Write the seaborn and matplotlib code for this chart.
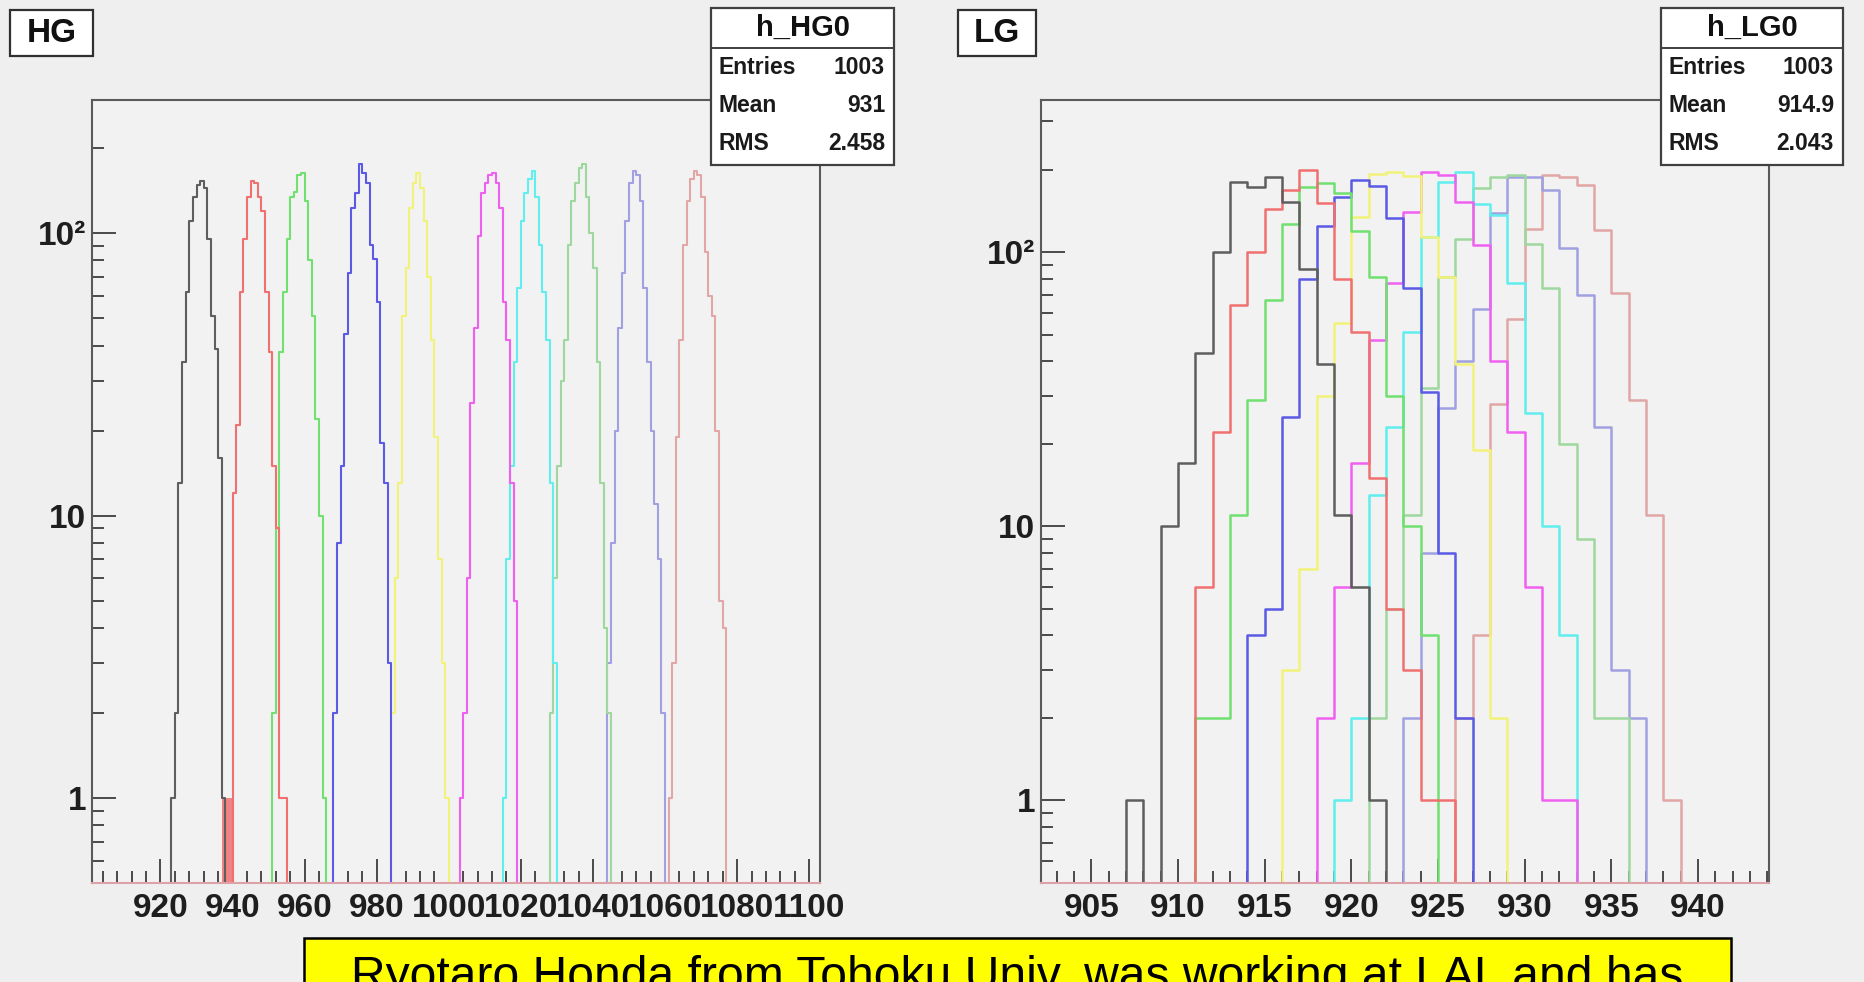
import numpy as np
import pandas as pd
import matplotlib
matplotlib.use("Agg")
import matplotlib.pyplot as plt
import seaborn as sns
from matplotlib.patches import Rectangle
from matplotlib.ticker import MultipleLocator, LogLocator, NullFormatter

# ---------------- data (bin counts, 1 ADC bins) ----------------
HG_START = [923, 940, 951, 968, 984, 1003, 1015, 1028, 1044, 1061]
HG_CH0 = [1, 2, 13, 35, 62, 110, 134, 148, 153, 145, 95, 51, 39, 16, 1]
HG_CH1 = [12, 21, 62, 95, 134, 153, 150, 134, 120, 62, 38, 15, 9, 1, 1]
HG_CH2 = [2, 9, 38, 62, 95, 134, 140, 160, 163, 130, 80, 51, 22, 10, 1]
HG_CH3 = [2, 8, 15, 44, 72, 123, 139, 176, 163, 150, 91, 81, 57, 18, 13, 3]
HG_CH4 = [2, 6, 13, 51, 75, 123, 150, 163, 145, 110, 70, 42, 19, 7, 3, 1]
HG_CH5 = [1, 2, 6, 25, 46, 98, 139, 150, 160, 163, 150, 123, 57, 42, 13, 5]
HG_CH6 = [1, 7, 15, 35, 64, 110, 139, 155, 166, 134, 91, 62, 42, 13, 3]
HG_CH7 = [2, 6, 15, 30, 42, 91, 130, 150, 170, 175, 134, 100, 75, 35, 13, 4, 2]
HG_CH8 = [3, 8, 20, 46, 72, 110, 150, 166, 160, 130, 64, 35, 20, 11, 7, 2]
HG_CH9 = [1, 3, 19, 42, 91, 130, 155, 166, 160, 134, 86, 60, 51, 20, 5, 4]
HG_RED_FILL_EDGES = [937, 940]
HG_RED_FILL_COUNT = 1

LG_START = [907, 911, 911, 914, 916, 918, 919, 921, 923, 926]
LG_CH0 = [1, 0, 10, 17, 43, 100, 181, 173, 188, 152, 87, 39, 11, 6, 1]
LG_CH1 = [6, 22, 64, 100, 144, 169, 199, 151, 80, 51, 15, 5, 3, 1, 1]
LG_CH2 = [2, 2, 11, 29, 67, 127, 173, 179, 164, 119, 81, 30, 10, 4]
LG_CH3 = [4, 5, 25, 80, 125, 159, 183, 175, 133, 74, 31, 8, 2]
LG_CH4 = [3, 7, 30, 55, 134, 193, 196, 190, 114, 81, 39, 19, 2]
LG_CH5 = [2, 6, 17, 48, 77, 140, 196, 191, 153, 106, 40, 22, 6, 1, 1]
LG_CH6 = [1, 2, 13, 23, 51, 114, 181, 196, 150, 137, 77, 26, 10, 4]
LG_CH7 = [2, 5, 11, 32, 81, 112, 171, 188, 191, 107, 74, 20, 9, 2, 2]
LG_CH8 = [2, 8, 27, 40, 62, 139, 188, 188, 169, 104, 70, 23, 3, 2]
LG_CH9 = [2, 4, 28, 57, 122, 191, 188, 176, 120, 71, 29, 11, 1]

Y_TICKS = [1, 10, 100]
Y_TICK_LABELS = ["1", "10", "10\u00b2"]

HG_STATS = [("Entries", "1003"), ("Mean", "931"), ("RMS", "2.458")]
LG_STATS = [("Entries", "1003"), ("Mean", "914.9"), ("RMS", "2.043")]
NOTE = "Ryotaro Honda from Tohoku Univ. was working at LAL and has"

COLORS = ["#5e5e5e", "#f07070", "#70e070", "#5a5ae6", "#f2f27a",
          "#f060f0", "#60eeee", "#9ed89e", "#a0a0e2", "#e2a6a6"]

# ---------------- style ----------------
sns.set_style("white")
plt.rcParams["font.family"] = ["Liberation Sans", "DejaVu Sans"]
plt.rcParams["font.weight"] = "bold"

W, H = 1864, 982
BG = "#efefef"
fig = plt.figure(figsize=(W / 100, H / 100), dpi=100, facecolor=BG)


def px_axes(x0, y0, x1, y1):
    return fig.add_axes([x0 / W, 1 - y1 / H, (x1 - x0) / W, (y1 - y0) / H])


def long_frame(starts, channels):
    rows = []
    for ch, (s, counts) in enumerate(zip(starts, channels)):
        for i, c in enumerate(counts):
            rows.append((ch, s + i + 0.5, c))
    return pd.DataFrame(rows, columns=["ch", "adc", "count"])


def draw_panel(ax, df, edges, xlim, ylim, major, minor, lw):
    ax.set_facecolor("#f2f2f2")
    sns.histplot(data=df, x="adc", weights="count", hue="ch",
                 hue_order=list(range(10)),
                 palette={i: c for i, c in enumerate(COLORS)},
                 bins=list(edges), element="step", fill=False, legend=False,
                 linewidth=lw, ax=ax)
    ax.set_yscale("log", nonpositive="clip")
    ax.set_xlim(*xlim)
    ax.set_ylim(*ylim)
    ax.set_xlabel("")
    ax.set_ylabel("")
    ax.xaxis.set_major_locator(MultipleLocator(major))
    ax.xaxis.set_minor_locator(MultipleLocator(minor))
    ax.set_yticks(Y_TICKS)
    ax.set_yticklabels(Y_TICK_LABELS)
    ax.yaxis.set_minor_locator(LogLocator(base=10, subs=np.arange(2, 10)))
    ax.yaxis.set_minor_formatter(NullFormatter())
    ax.tick_params(which="both", direction="in", top=False, right=False,
                   bottom=True, left=True, color="#4a4a4a", width=1.4,
                   labelsize=24, labelcolor="#1e1e1e")
    ax.tick_params(which="major", length=17)
    ax.tick_params(which="minor", length=8.5)
    ax.tick_params(axis="x", which="major", pad=7)
    ax.tick_params(axis="y", which="major", pad=4)
    for side, sp in ax.spines.items():
        sp.set_visible(True)
        sp.set_color("#5a5a5a")
        sp.set_linewidth(1.5)
    ax.spines["bottom"].set_color("#dca2a8")


# ---------------- HG panel ----------------
ax1 = px_axes(92, 100, 820, 883)
hg_df = long_frame(HG_START, [HG_CH0, HG_CH1, HG_CH2, HG_CH3, HG_CH4,
                              HG_CH5, HG_CH6, HG_CH7, HG_CH8, HG_CH9])
draw_panel(ax1, hg_df, range(901, 1104), (901, 1103), (0.5, 296), 20, 4, 1.5)
ax1.fill_between(HG_RED_FILL_EDGES, HG_RED_FILL_COUNT, 1e-3,
                 color=COLORS[1], alpha=0.85, linewidth=0)

# ---------------- LG panel ----------------
ax2 = px_axes(1041, 100, 1769, 883)
lg_df = long_frame(LG_START, [LG_CH0, LG_CH1, LG_CH2, LG_CH3, LG_CH4,
                              LG_CH5, LG_CH6, LG_CH7, LG_CH8, LG_CH9])
draw_panel(ax2, lg_df, range(902, 945), (902.1, 944.1), (0.5, 359), 5, 1, 1.8)


# ---------------- boxes ----------------
def rect(x0, y0, x1, y1, fc, ec, lw):
    fig.add_artist(Rectangle((x0 / W, 1 - y1 / H), (x1 - x0) / W, (y1 - y0) / H,
                             transform=fig.transFigure, facecolor=fc,
                             edgecolor=ec, linewidth=lw, zorder=5))


def ftext(x, y, s, **kw):
    return fig.text(x / W, 1 - y / H, s, zorder=6, **kw)


def label_box(x0, x1, s):
    rect(x0, 10, x1, 56, "white", "#303030", 1.6)
    ftext((x0 + x1) / 2, 34, s, ha="center", va="center", fontsize=24,
          fontweight="bold", color="#111111")


def stats_box(x0, x1, title, rows):
    rect(x0, 8, x1, 165, "white", "#404040", 1.6)
    fig.add_artist(plt.Line2D([x0 / W, x1 / W], [1 - 48 / H, 1 - 48 / H],
                              transform=fig.transFigure, color="#404040",
                              linewidth=1.4, zorder=6))
    ftext((x0 + x1) / 2, 28, title, ha="center", va="center", fontsize=21,
          fontweight="bold", color="#111111")
    for (k, v), y in zip(rows, [68, 106, 143]):
        ftext(x0 + 8, y, k, ha="left", va="center", fontsize=16.5,
              fontweight="bold", color="#1a1a1a")
        ftext(x1 - 9, y, v, ha="right", va="center", fontsize=16.5,
              fontweight="bold", color="#1a1a1a")


label_box(10, 93, "HG")
label_box(958, 1036, "LG")
stats_box(711, 894, "h_HG0", HG_STATS)
stats_box(1661, 1843, "h_LG0", LG_STATS)

# yellow note box (cut by the bottom of the picture, as in the reference)
rect(304, 938, 1731, 1010, "#ffff00", "#000000", 1.8)
note = ftext((304 + 1731) / 2, 990, NOTE, ha="center", va="baseline",
             fontsize=34, fontweight="normal", color="#000000")
fig.canvas.draw()
wpx = note.get_window_extent().width
note.set_fontsize(34 * 1331 / wpx)

fig.savefig("out.png", dpi=100, facecolor=BG)
